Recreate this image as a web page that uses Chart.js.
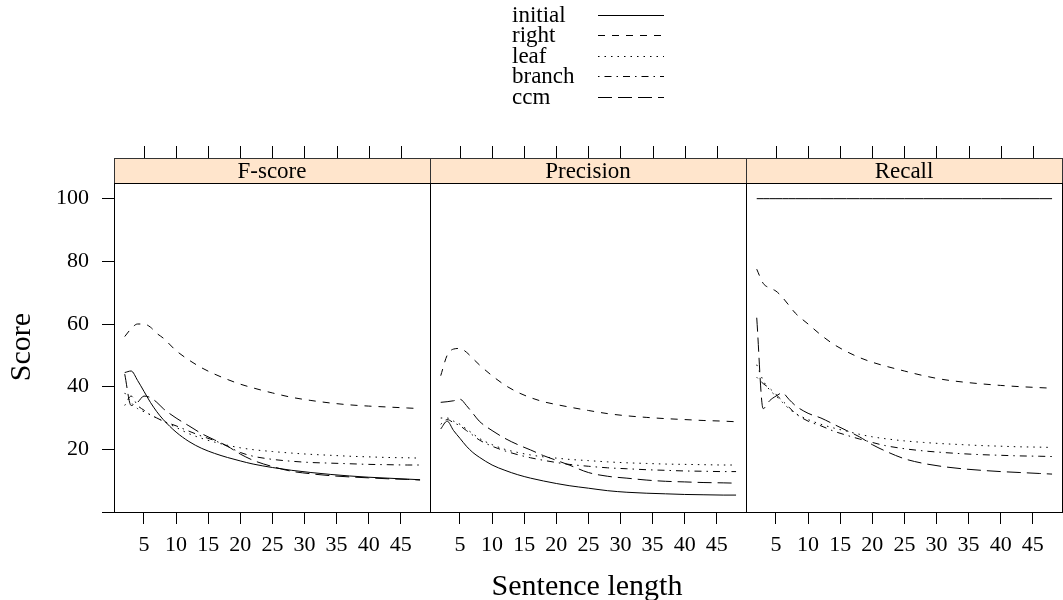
<!DOCTYPE html>
<html lang="en">
<head>
<meta charset="UTF-8">
<title>Score by sentence length</title>
<script src="https://cdn.jsdelivr.net/npm/chart.js"></script>
<style>
    body, html {
        margin: 0;
        padding: 0;
        width: 100%;
        height: 100%;
        overflow: hidden;
        background: #fff;
    }
    #wrap {
        position: relative;
        width: 1063px;
        height: 600px;
    }
    canvas {
        position: absolute;
        left: 0;
        top: 0;
    }
</style>
</head>
<body>
<div id="wrap">
    <canvas id="panel0" width="1063" height="600"></canvas>
    <canvas id="panel1" width="1063" height="600"></canvas>
    <canvas id="panel2" width="1063" height="600"></canvas>
</div>

<script>
    // data
    const lengths = [2, 3, 4, 5, 6, 7, 8, 10, 12, 14, 16, 18, 20, 22, 25, 28, 31, 34, 37, 40, 43, 46, 48];
    const xTicks = [5, 10, 15, 20, 25, 30, 35, 40, 45];
    const yTicks = [0, 20, 40, 60, 80, 100];
    const panelNames = ['F-score', 'Precision', 'Recall'];
    const seriesNames = ['initial', 'right', 'leaf', 'branch', 'ccm'];

    const fInitial = [44.5, 45, 42, 38.5, 35, 32, 29.5, 25.5, 22.5, 20.3, 18.7, 17.4, 16.3, 15.3, 14.2, 13.3, 12.6, 12, 11.5, 11.1, 10.8, 10.5, 10.3];
    const fRight   = [56, 58.5, 60, 60, 59, 57, 55.5, 51.5, 48.5, 46, 44, 42.3, 40.8, 39.6, 38, 36.6, 35.6, 34.8, 34.2, 33.8, 33.5, 33.2, 33];
    const fLeaf    = [38, 35, 33, 32, 31, 30, 29, 27, 25, 23.5, 22.3, 21.3, 20.5, 19.9, 19.3, 18.8, 18.4, 18.1, 17.8, 17.6, 17.4, 17.3, 17.2];
    const fBranch  = [34, 37, 34, 32.5, 31, 30, 29, 27.5, 25.8, 24.2, 22.8, 21, 19, 17.8, 16.8, 16.2, 15.8, 15.6, 15.4, 15.2, 15.1, 15, 15];
    const fCcm     = [44, 34, 35, 37, 36.5, 35, 33, 30, 27.5, 25, 23, 21, 18.5, 16.5, 14.5, 13, 12.2, 11.6, 11.2, 10.9, 10.6, 10.4, 10.2];

    const pInitial = [26.5, 29, 26, 23.5, 21, 19, 17.5, 15, 13.3, 11.9, 10.8, 9.9, 9.1, 8.4, 7.6, 6.8, 6.3, 6, 5.8, 5.6, 5.5, 5.4, 5.4];
    const pRight   = [43.5, 50, 52, 52.2, 51, 49, 47, 43.5, 40.5, 38.2, 36.5, 35.2, 34.3, 33.5, 32.4, 31.4, 30.7, 30.2, 29.8, 29.5, 29.2, 29, 28.8];
    const pLeaf    = [30, 30, 29, 28, 26.5, 25, 23.5, 21.5, 20, 19, 18.2, 17.6, 17.2, 16.8, 16.4, 16, 15.7, 15.5, 15.3, 15.2, 15.1, 15, 15];
    const pBranch  = [28, 29.5, 28.5, 27.5, 26, 24.5, 23, 21, 19.5, 18.3, 17.3, 16.5, 15.8, 15.2, 14.6, 14.1, 13.8, 13.5, 13.3, 13.1, 13, 12.9, 12.9];
    const pCcm     = [35, 35.2, 35.5, 36, 34, 31.5, 29, 26, 23.5, 21.5, 19.8, 18, 16.5, 15, 12.6, 11.4, 10.8, 10.2, 9.8, 9.6, 9.4, 9.3, 9.2];

    const rInitial = [100, 100, 100, 100, 100, 100, 100, 100, 100, 100, 100, 100, 100, 100, 100, 100, 100, 100, 100, 100, 100, 100, 100];
    const rRight   = [77.5, 73, 71.5, 70.5, 68.5, 66, 63.5, 60, 56.5, 53.5, 51.2, 49.3, 47.8, 46.6, 45, 43.5, 42.3, 41.5, 40.9, 40.4, 40, 39.7, 39.5];
    const rLeaf    = [47, 42, 39, 37, 35, 33, 31.5, 29.5, 28, 26.8, 25.8, 24.8, 24, 23.4, 22.7, 22.2, 21.8, 21.5, 21.2, 21, 20.8, 20.7, 20.6];
    const rBranch  = [43, 41, 39.5, 37.5, 35.5, 33.5, 31.5, 29, 27.5, 25.8, 24.5, 23.3, 22.2, 21.2, 20.2, 19.5, 19, 18.6, 18.3, 18.1, 17.9, 17.8, 17.7];
    const rCcm     = [62, 33, 35.5, 37, 38, 36, 34, 31.5, 30, 28, 26, 24, 21.5, 19.5, 17, 15.5, 14.5, 13.8, 13.3, 12.9, 12.6, 12.3, 12.1];

    const panelValues = [
        [fInitial, fRight, fLeaf, fBranch, fCcm],
        [pInitial, pRight, pLeaf, pBranch, pCcm],
        [rInitial, rRight, rLeaf, rBranch, rCcm]
    ];

    // layout + style
    const FONT = '"Liberation Serif", "Times New Roman", serif';
    const W = 1063;
    const panelLeft = [114, 430, 746];
    const panelRight = [430, 746, 1062];
    const stripTop = 158;
    const dashes = [[], [7, 7], [1.5, 5], [1.5, 5, 7, 5], [14, 6]];

    const latticePlugin = {
        id: 'lattice',
        afterDraw(chart) {
            const ctx = chart.ctx;
            const a = chart.chartArea;
            const i = chart.options.panelIndex;
            const xs = chart.scales.x;
            const ys = chart.scales.y;
            ctx.save();

            // strip
            ctx.fillStyle = '#ffe5cc';
            ctx.fillRect(a.left, stripTop, a.right - a.left, a.top - stripTop);
            ctx.strokeStyle = '#333';
            ctx.lineWidth = 1;
            ctx.strokeRect(a.left + 0.5, stripTop + 0.5, a.right - a.left, a.top - stripTop);
            ctx.fillStyle = '#000';
            ctx.font = '23px ' + FONT;
            ctx.textAlign = 'center';
            ctx.textBaseline = 'alphabetic';
            ctx.fillText(panelNames[i], (a.left + a.right) / 2, 178);

            // panel box
            ctx.strokeStyle = '#000';
            ctx.strokeRect(a.left + 0.5, a.top + 0.5, a.right - a.left, a.bottom - a.top);

            // top ticks above the strip
            ctx.beginPath();
            xTicks.forEach(v => {
                const px = Math.round(xs.getPixelForValue(v)) + 0.5;
                ctx.moveTo(px, stripTop - 12);
                ctx.lineTo(px, stripTop);
            });
            // right ticks on last panel
            if (i === 2) {
                yTicks.forEach(v => {
                    const py = Math.round(ys.getPixelForValue(v)) + 0.5;
                    ctx.moveTo(a.right, py);
                    ctx.lineTo(a.right + 12, py);
                });
            }
            ctx.stroke();

            if (i === 0) {
                // axis titles
                ctx.font = '30px ' + FONT;
                ctx.textAlign = 'center';
                ctx.textBaseline = 'middle';
                ctx.fillText('Sentence length', 587, 587);
                ctx.save();
                ctx.translate(22, 347);
                ctx.rotate(-Math.PI / 2);
                ctx.fillText('Score', 0, 0);
                ctx.restore();

                // legend
                ctx.font = '23px ' + FONT;
                ctx.textAlign = 'left';
                ctx.textBaseline = 'alphabetic';
                chart.data.datasets.forEach((ds, k) => {
                    const ly = 15 + k * 20.4;
                    ctx.fillText(ds.label, 512, ly + 7);
                    ctx.beginPath();
                    ctx.setLineDash(ds.borderDash);
                    ctx.moveTo(598, Math.round(ly) + 0.5);
                    ctx.lineTo(664, Math.round(ly) + 0.5);
                    ctx.stroke();
                });
                ctx.setLineDash([]);
            }
            ctx.restore();
        }
    };

    function makePanel(i) {
        const first = i === 0;
        const tickGrid = {
            display: first,
            drawOnChartArea: false,
            drawTicks: true,
            tickLength: 12,
            color: '#000',
            lineWidth: 1
        };
        return new Chart(document.getElementById('panel' + i), {
            type: 'line',
            data: {
                datasets: seriesNames.map((name, s) => ({
                    label: name,
                    data: lengths.map((x, k) => ({ x: x, y: panelValues[i][s][k] })),
                    borderColor: '#000',
                    borderWidth: 1,
                    borderDash: dashes[s],
                    pointRadius: 0,
                    fill: false,
                    cubicInterpolationMode: 'monotone'
                }))
            },
            options: {
                panelIndex: i,
                responsive: false,
                animation: false,
                events: [],
                layout: {
                    padding: {
                        left: 0,
                        right: W - panelRight[i],
                        top: 183,
                        bottom: 28
                    }
                },
                plugins: {
                    legend: { display: false },
                    tooltip: { enabled: false }
                },
                scales: {
                    x: {
                        type: 'linear',
                        min: 0.33,
                        max: 49.55,
                        position: 'bottom',
                        afterBuildTicks: s => { s.ticks = xTicks.map(v => ({ value: v })); },
                        afterFit: s => { s.height = 60; },
                        grid: Object.assign({}, tickGrid, { display: true }),
                        border: { display: false },
                        ticks: {
                            color: '#000',
                            font: { family: FONT, size: 22 },
                            padding: 8,
                            maxRotation: 0,
                            autoSkip: false
                        }
                    },
                    y: {
                        display: true,
                        min: 0,
                        max: 105,
                        position: 'left',
                        afterBuildTicks: s => { s.ticks = yTicks.map(v => ({ value: v })); },
                        afterFit: s => { s.width = panelLeft[i]; },
                        grid: tickGrid,
                        border: { display: false },
                        ticks: {
                            display: first,
                            color: '#000',
                            font: { family: FONT, size: 22 },
                            padding: 13,
                            callback: v => (v === 0 ? '' : v)
                        }
                    }
                }
            },
            plugins: [latticePlugin]
        });
    }

    [0, 1, 2].forEach(makePanel);
</script>
</body>
</html>
